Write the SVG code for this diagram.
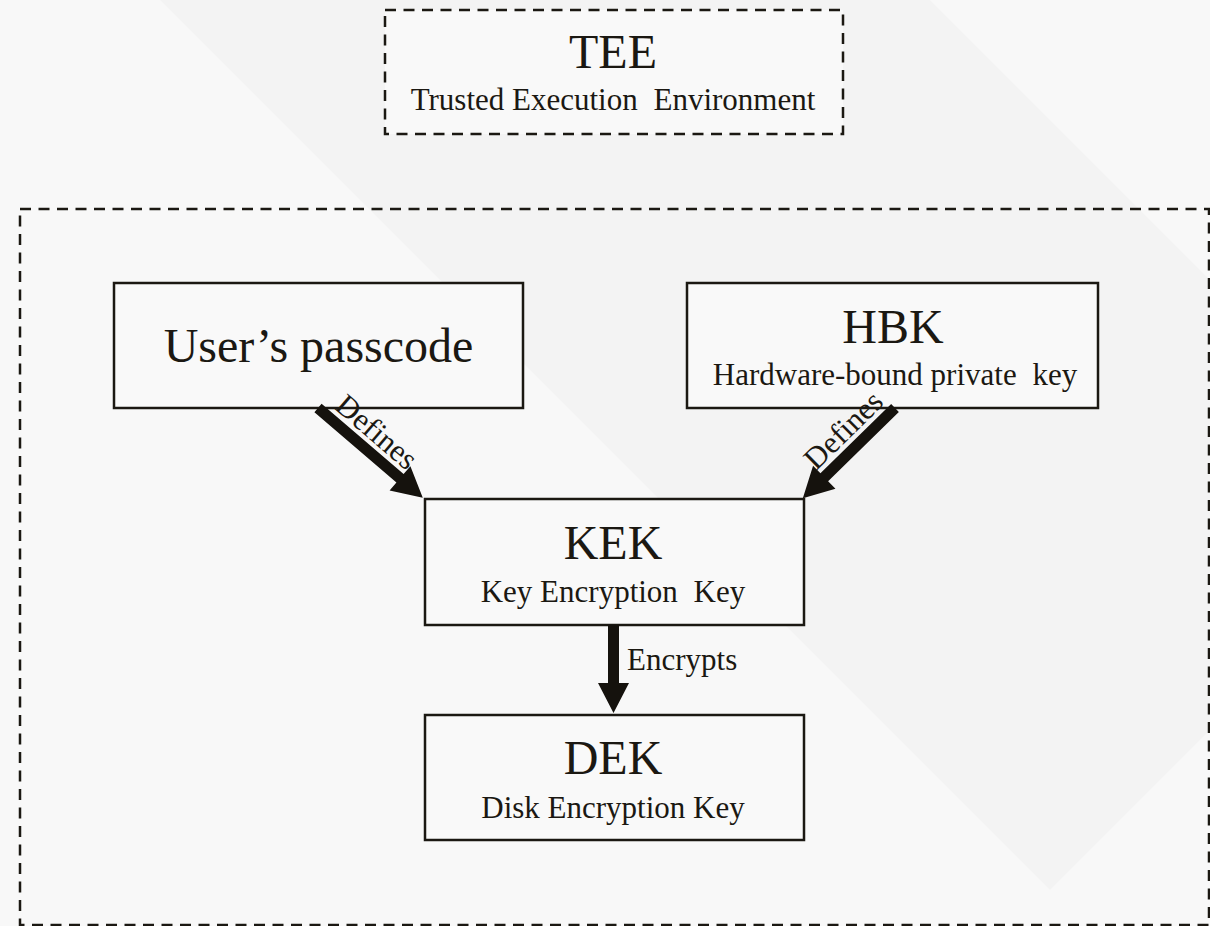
<svg xmlns="http://www.w3.org/2000/svg" width="1210" height="926" viewBox="0 0 1210 926">
  <style>
    .node { fill: #f9f9f9; stroke: #1b1812; stroke-width: 2.5; }
    .dashed { fill: none; stroke: #1b1812; stroke-width: 2.5; stroke-dasharray: 11 7.5; }
    .title { font-family: "Liberation Serif", "Times New Roman", serif; font-size: 48px; fill: #1b1812; text-anchor: middle; }
    .sub { font-family: "Liberation Serif", "Times New Roman", serif; font-size: 31px; fill: #1b1812; text-anchor: middle; }
    .label { font-family: "Liberation Serif", "Times New Roman", serif; font-size: 31px; fill: #1b1812; }
    .arrow { fill: #15120d; stroke: none; }
  </style>

  <!-- backdrop -->
  <rect x="0" y="0" width="1210" height="926" fill="#f8f8f8"/>
  <polygon points="160,0 930,0 1210,280 1210,730 1050,890" fill="#f3f3f3"/>

  <!-- trusted execution environment -->
  <g id="tee">
    <rect class="dashed" x="385" y="10" width="458" height="124" fill="#f9f9f9" style="fill:#f9f9f9"/>
    <text class="title" x="613" y="68">TEE</text>
    <text class="sub" x="613" y="110">Trusted Execution <tspan dx="8">Environment</tspan></text>
  </g>

  <!-- device boundary -->
  <g id="device">
    <rect class="dashed" x="20" y="209" width="1189" height="716"/>
  </g>

  <g id="passcode">
    <rect class="node" x="114" y="283" width="409" height="125"/>
    <text class="title" x="318.5" y="362">User’s passcode</text>
  </g>

  <g id="hbk">
    <rect class="node" x="687" y="283" width="411" height="125"/>
    <text class="title" x="893" y="343">HBK</text>
    <text class="sub" x="895" y="385">Hardware-bound private <tspan dx="8">key</tspan></text>
  </g>

  <g id="kek">
    <rect class="node" x="425" y="499" width="379" height="126"/>
    <text class="title" x="613" y="559">KEK</text>
    <text class="sub" x="613" y="601.5">Key Encryption <tspan dx="8">Key</tspan></text>
  </g>

  <g id="dek">
    <rect class="node" x="425" y="715" width="379" height="125"/>
    <text class="title" x="613" y="774">DEK</text>
    <text class="sub" x="613" y="818">Disk Encryption Key</text>
  </g>

  <!-- block arrows -->
  <g id="connectors">
    <path class="arrow" transform="translate(318,408) rotate(40.6)" d="M0,-5.5 H108 V-16 L138,0 L108,16 V5.5 H0 Z"/>
    <text class="label" text-anchor="middle" transform="translate(370,439.7) rotate(40.6)">Defines</text>

    <path class="arrow" transform="translate(895,408) rotate(135.6)" d="M0,-5.5 H99 V-16 L129,0 L99,16 V5.5 H0 Z"/>
    <text class="label" text-anchor="middle" transform="translate(850.5,437.4) rotate(-44.4)">Defines</text>

    <path class="arrow" transform="translate(613.5,625) rotate(90)" d="M0,-5.5 H58 V-15.5 L88,0 L58,15.5 V5.5 H0 Z"/>
    <text class="label" x="627" y="670">Encrypts</text>
  </g>
</svg>
